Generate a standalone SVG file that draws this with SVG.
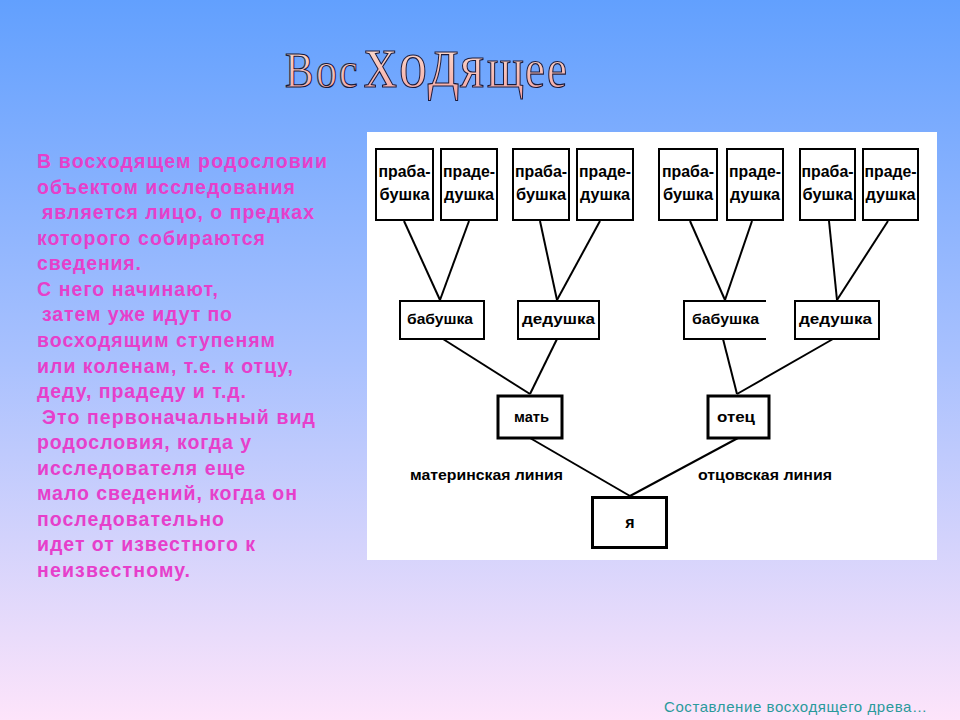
<svg xmlns="http://www.w3.org/2000/svg" width="960" height="720" viewBox="0 0 960 720">
<defs>
<linearGradient id="bg" x1="0" y1="0" x2="0" y2="1">
<stop offset="0" stop-color="#62a0fe"/>
<stop offset="0.5" stop-color="#a9c1fe"/>
<stop offset="1" stop-color="#fde4fa"/>
</linearGradient>
<linearGradient id="tg" x1="0" y1="0" x2="0" y2="1">
<stop offset="0" stop-color="#fffbe6"/>
<stop offset="1" stop-color="#f39c9c"/>
</linearGradient>
<style>
.side{font-family:"Liberation Sans",Arial,sans-serif;font-weight:bold;font-size:19.5px;fill:#e63fcb}
.box{fill:#ffffff;stroke:#000000;stroke-width:2}
.boxb{fill:#ffffff;stroke:#000000;stroke-width:3}
.lbl{font-family:"Liberation Sans",Arial,sans-serif;font-weight:bold;fill:#000000;text-anchor:middle}
.con line{stroke:#000000;stroke-width:2}
</style>
</defs>
<rect x="0" y="0" width="960" height="720" fill="url(#bg)"/>
<g id="title">
<text transform="translate(0,87) scale(1,1.2)" font-family="'Liberation Serif','Times New Roman',serif" fill="url(#tg)" stroke="#1a1a3a" stroke-width="1"><tspan x="285" y="0" font-size="43">В</tspan><tspan x="316" y="0" font-size="42">о</tspan><tspan x="339" y="0" font-size="42">с</tspan><tspan x="364" y="0" font-size="66">х</tspan><tspan x="399" y="0" font-size="56">о</tspan><tspan x="428" y="-1" font-size="62">д</tspan><tspan x="460" y="0" font-size="52">я</tspan><tspan x="487" y="0" font-size="48">щ</tspan><tspan x="525" y="0" font-size="45">е</tspan><tspan x="547" y="0" font-size="45">е</tspan></text>
</g>
<g id="description">
<text class="side" x="37" y="168" textLength="290" lengthAdjust="spacing">В восходящем родословии</text>
<text class="side" x="37" y="193.6" textLength="258" lengthAdjust="spacing">объектом исследования</text>
<text class="side" x="42" y="219.1" textLength="272" lengthAdjust="spacing">является лицо, о предках</text>
<text class="side" x="37" y="244.7" textLength="228" lengthAdjust="spacing">которого собираются</text>
<text class="side" x="37" y="270.2" textLength="104" lengthAdjust="spacing">сведения.</text>
<text class="side" x="37" y="295.8" textLength="181" lengthAdjust="spacing">С него начинают,</text>
<text class="side" x="42" y="321.4" textLength="190" lengthAdjust="spacing">затем уже идут по</text>
<text class="side" x="37" y="346.9" textLength="238" lengthAdjust="spacing">восходящим ступеням</text>
<text class="side" x="37" y="372.5" textLength="256" lengthAdjust="spacing">или коленам, т.е. к отцу,</text>
<text class="side" x="37" y="398" textLength="209" lengthAdjust="spacing">деду, прадеду и т.д.</text>
<text class="side" x="42" y="423.6" textLength="273" lengthAdjust="spacing">Это первоначальный вид</text>
<text class="side" x="37" y="449.2" textLength="214" lengthAdjust="spacing">родословия, когда у</text>
<text class="side" x="37" y="474.7" textLength="208" lengthAdjust="spacing">исследователя еще</text>
<text class="side" x="37" y="500.3" textLength="260" lengthAdjust="spacing">мало сведений, когда он</text>
<text class="side" x="37" y="525.8" textLength="187" lengthAdjust="spacing">последовательно</text>
<text class="side" x="37" y="551.4" textLength="218" lengthAdjust="spacing">идет от известного к</text>
<text class="side" x="37" y="577" textLength="153" lengthAdjust="spacing">неизвестному.</text>
</g>
<rect id="panel" x="367" y="132" width="570" height="428" fill="#ffffff"/>
<g class="con" id="connectors">
<line x1="404" y1="221" x2="440" y2="300"/>
<line x1="469" y1="221" x2="440" y2="300"/>
<line x1="540" y1="221" x2="557" y2="300"/>
<line x1="600" y1="221" x2="557" y2="300"/>
<line x1="690" y1="221" x2="725" y2="300"/>
<line x1="752" y1="221" x2="725" y2="300"/>
<line x1="829" y1="221" x2="837" y2="300"/>
<line x1="888" y1="221" x2="837" y2="300"/>
<line x1="443" y1="339" x2="530" y2="394"/>
<line x1="557" y1="339" x2="530" y2="394"/>
<line x1="723" y1="339" x2="737" y2="394"/>
<line x1="833" y1="339" x2="737" y2="394"/>
<line x1="530" y1="438" x2="630" y2="496"/>
<line x1="738" y1="438" x2="630" y2="496"/>
</g>
<g id="gg1"><rect class="box" x="376" y="149" width="57" height="71"/><text class="lbl" x="404.5" y="177" font-size="16" textLength="52" lengthAdjust="spacingAndGlyphs">праба-</text><text class="lbl" x="404.5" y="200" font-size="16" textLength="50" lengthAdjust="spacingAndGlyphs">бушка</text></g>
<g id="gg2"><rect class="box" x="441" y="149" width="56" height="71"/><text class="lbl" x="469" y="177" font-size="16" textLength="52" lengthAdjust="spacingAndGlyphs">праде-</text><text class="lbl" x="469" y="200" font-size="16" textLength="50" lengthAdjust="spacingAndGlyphs">душка</text></g>
<g id="gg3"><rect class="box" x="513" y="149" width="56" height="71"/><text class="lbl" x="541" y="177" font-size="16" textLength="52" lengthAdjust="spacingAndGlyphs">праба-</text><text class="lbl" x="541" y="200" font-size="16" textLength="50" lengthAdjust="spacingAndGlyphs">бушка</text></g>
<g id="gg4"><rect class="box" x="577" y="149" width="56" height="71"/><text class="lbl" x="605" y="177" font-size="16" textLength="52" lengthAdjust="spacingAndGlyphs">праде-</text><text class="lbl" x="605" y="200" font-size="16" textLength="50" lengthAdjust="spacingAndGlyphs">душка</text></g>
<g id="gg5"><rect class="box" x="659" y="149" width="58" height="71"/><text class="lbl" x="688" y="177" font-size="16" textLength="52" lengthAdjust="spacingAndGlyphs">праба-</text><text class="lbl" x="688" y="200" font-size="16" textLength="50" lengthAdjust="spacingAndGlyphs">бушка</text></g>
<g id="gg6"><rect class="box" x="727" y="149" width="56" height="71"/><text class="lbl" x="755" y="177" font-size="16" textLength="52" lengthAdjust="spacingAndGlyphs">праде-</text><text class="lbl" x="755" y="200" font-size="16" textLength="50" lengthAdjust="spacingAndGlyphs">душка</text></g>
<g id="gg7"><rect class="box" x="800" y="149" width="55" height="71"/><text class="lbl" x="827.5" y="177" font-size="16" textLength="52" lengthAdjust="spacingAndGlyphs">праба-</text><text class="lbl" x="827.5" y="200" font-size="16" textLength="50" lengthAdjust="spacingAndGlyphs">бушка</text></g>
<g id="gg8"><rect class="box" x="863" y="149" width="55" height="71"/><text class="lbl" x="890.5" y="177" font-size="16" textLength="52" lengthAdjust="spacingAndGlyphs">праде-</text><text class="lbl" x="890.5" y="200" font-size="16" textLength="50" lengthAdjust="spacingAndGlyphs">душка</text></g>
<g id="gm1"><rect class="box" x="400" y="301" width="84" height="38"/><text class="lbl" x="440" y="324" font-size="15" textLength="66" lengthAdjust="spacingAndGlyphs">бабушка</text></g>
<g id="gm2"><rect class="box" x="518" y="301" width="81" height="38"/><text class="lbl" x="558.5" y="324" font-size="15" textLength="73" lengthAdjust="spacingAndGlyphs">дедушка</text></g>
<g id="gp1"><path d="M766,301 H684 V339 H766" fill="#ffffff" stroke="#000000" stroke-width="2"/><text class="lbl" x="725.5" y="324" font-size="15" textLength="67" lengthAdjust="spacingAndGlyphs">бабушка</text></g>
<g id="gp2"><rect class="box" x="795" y="301" width="84" height="38"/><text class="lbl" x="835.5" y="324" font-size="15" textLength="73" lengthAdjust="spacingAndGlyphs">дедушка</text></g>
<g id="mother"><rect class="boxb" x="498" y="396" width="64" height="42"/><text class="lbl" x="531.5" y="422" font-size="15" textLength="35" lengthAdjust="spacingAndGlyphs">мать</text></g>
<g id="father"><rect class="boxb" x="708" y="396" width="61" height="42"/><text class="lbl" x="736" y="422" font-size="15" textLength="38" lengthAdjust="spacingAndGlyphs">отец</text></g>
<g id="me"><rect class="boxb" x="592.5" y="497.5" width="74" height="50"/><text class="lbl" x="630" y="528" font-size="16">я</text></g>
<g id="line-labels">
<text class="lbl" x="486.5" y="480" font-size="14" textLength="153" lengthAdjust="spacingAndGlyphs">материнская линия</text>
<text class="lbl" x="765" y="480" font-size="14" textLength="134" lengthAdjust="spacingAndGlyphs">отцовская линия</text>
</g>
<text id="footer" x="664" y="712" font-family="'Liberation Sans',Arial,sans-serif" font-size="15" fill="#2a9a9c" textLength="263" lengthAdjust="spacing">Составление восходящего древа…</text>
</svg>
